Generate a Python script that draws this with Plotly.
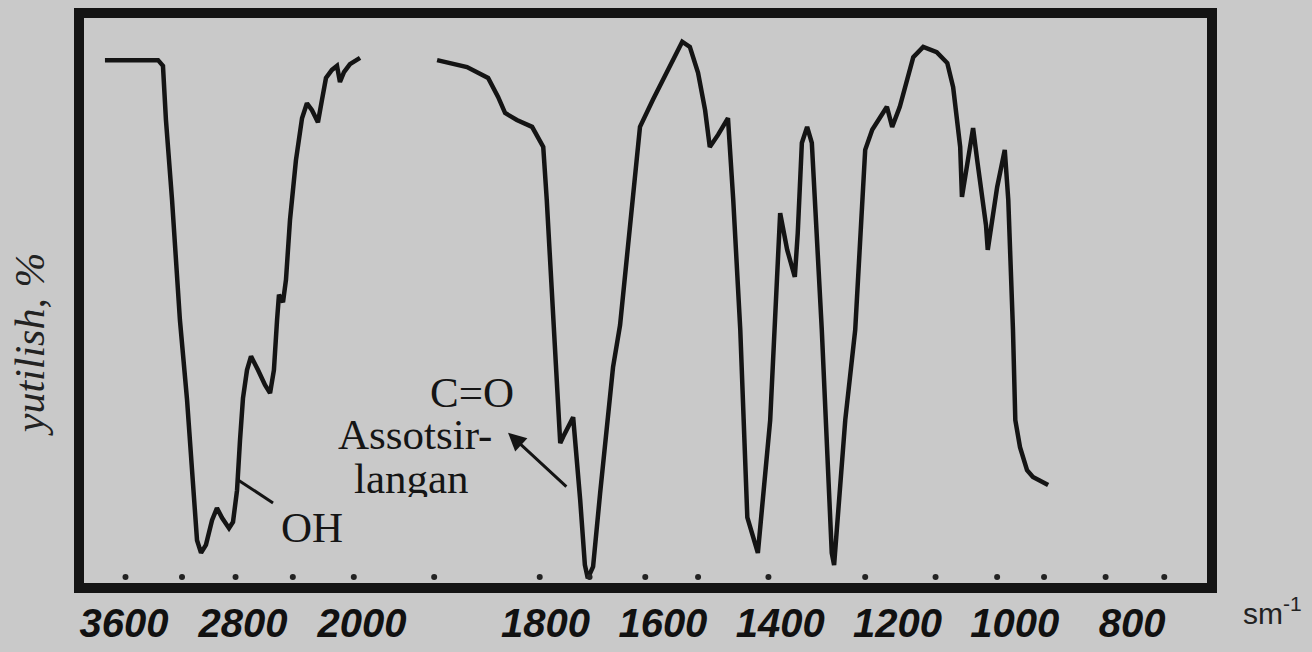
import plotly.graph_objects as go

# IR spectrum, high-frequency region (3600-2000 cm-1, compressed scale)
wn_high = [3728, 3371, 3338, 3318, 3277, 3224, 3176, 3136, 3109, 3082, 3049, 3008,
           2975, 2941, 2894, 2867, 2840, 2820, 2800, 2773, 2746, 2699, 2652, 2618,
           2592, 2571, 2558, 2531, 2511, 2484, 2444, 2403, 2370, 2336, 2296, 2269,
           2242, 2202, 2168, 2148, 2121, 2081, 2013]
tr_high = [91.8, 91.8, 90.8, 81.4, 67.5, 46.6, 32.7, 18.8, 8.3, 6.1, 7.5, 11.8,
           13.9, 12.2, 10.4, 11.5, 17.0, 25.7, 33.0, 37.9, 40.3, 37.9, 35.3, 33.9,
           37.9, 46.6, 51.0, 49.7, 53.6, 64.0, 74.4, 81.7, 84.3, 83.1, 81.0, 84.9,
           88.7, 90.1, 90.8, 88.0, 89.7, 91.1, 92.2]

# IR spectrum, fingerprint region (2000-800 cm-1, expanded scale)
wn_low = [1985, 1934, 1898, 1881, 1869, 1849, 1823, 1810, 1804, 1798, 1789, 1779,
          1775, 1770, 1753, 1741, 1733, 1728, 1719, 1707, 1685, 1673, 1651, 1639,
          1617, 1593, 1567, 1554, 1540, 1528, 1520, 1506, 1489, 1480, 1468, 1456,
          1438, 1417, 1409, 1400, 1388, 1375, 1370, 1363, 1354, 1346, 1329, 1312,
          1308, 1289, 1272, 1255, 1243, 1225, 1218, 1209, 1196, 1173, 1156, 1133,
          1115, 1105, 1093, 1090, 1080, 1071, 1064, 1049, 1046, 1030, 1017, 1011,
          1003, 999, 991, 979, 969, 943]
tr_low = [91.8, 90.6, 88.7, 85.4, 82.6, 81.4, 80.2, 77.9, 76.7, 67.5, 50.1, 30.4,
          25.2, 26.3, 29.7, 15.3, 4.0, 1.7, 3.7, 16.5, 38.4, 45.7, 67.5, 80.2,
          84.9, 89.6, 95.0, 94.1, 89.6, 83.1, 76.7, 78.8, 81.7, 67.5, 44.9, 12.3,
          6.1, 29.2, 45.7, 65.2, 58.8, 54.1, 61.7, 77.4, 80.2, 77.4, 44.9, 6.1,
          4.0, 29.2, 44.9, 76.2, 79.7, 82.6, 83.7, 80.2, 83.7, 92.3, 94.1, 93.2,
          91.3, 87.1, 76.7, 68.0, 75.0, 80.0, 74.4, 63.1, 58.8, 69.7, 76.2, 67.5,
          44.9, 29.2, 24.5, 20.5, 19.3, 17.9]

# small dot marks along the lower edge of the frame
dots_high = [3590, 3210, 2850, 2465, 2055]
dots_low = [1990, 1810, 1725, 1630, 1540, 1420, 1255, 1135, 1030, 950, 845, 745]
dot_level = 1.9

ticks_high = [3600, 2800, 2000]
ticks_low = [1800, 1600, 1400, 1200, 1000, 800]

BG = "#c9c9c9"
INK = "#141414"
SPLIT = 0.2833

fig = go.Figure()
fig.add_trace(go.Scatter(x=wn_high, y=tr_high, mode="lines", xaxis="x", yaxis="y",
                         line=dict(color=INK, width=4.5), hoverinfo="skip"))
fig.add_trace(go.Scatter(x=wn_low, y=tr_low, mode="lines", xaxis="x2", yaxis="y",
                         line=dict(color=INK, width=4.5), hoverinfo="skip"))
fig.add_trace(go.Scatter(x=dots_high, y=[dot_level] * len(dots_high), mode="markers",
                         xaxis="x", yaxis="y", marker=dict(color="#222", size=6),
                         hoverinfo="skip"))
fig.add_trace(go.Scatter(x=dots_low, y=[dot_level] * len(dots_low), mode="markers",
                         xaxis="x2", yaxis="y", marker=dict(color="#222", size=6),
                         hoverinfo="skip"))

tickfont = dict(family="Liberation Sans, Arial, sans-serif", size=40, color="#111",
                weight="bold", style="italic")
axis_common = dict(showgrid=False, zeroline=False, showline=False, ticks="",
                   tickfont=tickfont, ticklabelstandoff=8, anchor="y",
                   automargin=False)

fig.update_layout(
    width=1312, height=652,
    margin=dict(l=79, r=100, t=13, b=64),
    paper_bgcolor=BG, plot_bgcolor=BG,
    showlegend=False,
    xaxis=dict(domain=[0, SPLIT], range=[3902.5, 1744.5], tickvals=ticks_high,
               ticktext=[str(v) for v in ticks_high], **axis_common),
    xaxis2=dict(domain=[SPLIT, 1], range=[2048.3, 663.6], tickvals=ticks_low,
                ticktext=[str(v) for v in ticks_low], **axis_common),
    yaxis=dict(range=[0, 100], visible=False, fixedrange=True, automargin=False),
)

# heavy frame around the plot area
fig.add_shape(type="rect", xref="paper", yref="paper", x0=0, x1=1, y0=0, y1=1,
              line=dict(color=INK, width=10), layer="above")

# OH leader line
fig.add_shape(type="line", xref="x", yref="y", x0=2833, y0=18.8, x1=2598, y1=14.8,
              line=dict(color=INK, width=3))

serif = dict(family="Liberation Serif, Times New Roman, serif", size=43, color="#151515")

fig.add_annotation(x=2336, y=10.6, xref="x", yref="y", text="OH", showarrow=False,
                   font=serif, height=38)

# associated C=O band label with arrow
fig.add_annotation(x=1926, y=34.1, xref="x2", yref="y", text="C=O", showarrow=False,
                   font=serif, height=38)
fig.add_annotation(x=2023, y=26.8, xref="x2", yref="y", text="Assotsir-",
                   showarrow=False, font=serif, height=38)
fig.add_annotation(x=2028, y=19.1, xref="x2", yref="y", text="langan",
                   showarrow=False, font=serif, height=38)
fig.add_annotation(x=1864, y=27.0, xref="x2", yref="y", ax=1762, ay=17.4,
                   axref="x2", ayref="y", text="", showarrow=True, arrowhead=2,
                   arrowsize=1.2, arrowwidth=3, arrowcolor=INK)

# y-axis caption and unit label
fig.add_annotation(x=-0.0432, y=0.424, xref="paper", yref="paper",
                   xanchor="center", yanchor="middle",
                   text="yutilish, %", textangle=-90, showarrow=False,
                   font=dict(family="Liberation Serif, serif", size=42, color="#222",
                             style="italic"))
fig.add_annotation(x=1.053, y=-0.04, xref="paper", yref="paper",
                   xanchor="center", yanchor="middle",
                   text="sm<sup>-1</sup>", showarrow=False,
                   font=dict(family="Liberation Sans, Arial, sans-serif", size=30,
                             color="#222"))

fig.write_html("out.html")
